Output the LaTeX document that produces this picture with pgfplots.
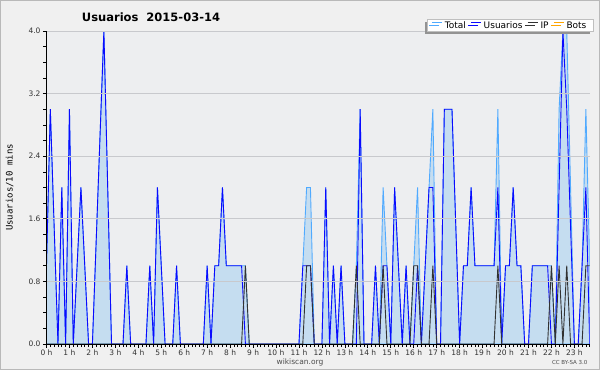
\documentclass[border=0pt]{standalone}
\usepackage{fontspec}
\setmainfont{DejaVu Sans}
\newfontfamily\monof{DejaVu Sans Mono}
\usepackage{pgfplots}
\usepackage{pgfplotstable}
\pgfplotsset{compat=1.18}
\usetikzlibrary{shadows}
\definecolor{outerbg}{RGB}{240,240,240}
\definecolor{plotbg}{RGB}{237,238,240}
\definecolor{gridc}{RGB}{200,201,205}
\definecolor{totline}{RGB}{80,170,255}
\definecolor{totfill}{RGB}{197,221,240}
\definecolor{usr}{RGB}{10,10,255}
\definecolor{ipc}{RGB}{50,50,50}
\definecolor{botc}{RGB}{255,165,0}

\pgfplotstableread{
i T U IP
0 1 1 0
1 3 3 0
2 1.5 1.5 0
3 0 0 0
4 2 2 0
5 0 0 0
6 3 3 0
7 0 0 0
8 1 1 0
9 2 2 0
10 1 1 0
11 0 0 0
12 0 0 0
13 1.33 1.33 0
14 2.67 2.67 0
15 4 4 0
16 2 2 0
17 0 0 0
18 0 0 0
19 0 0 0
20 0 0 0
21 1 1 0
22 0 0 0
23 0 0 0
24 0 0 0
25 0 0 0
26 0 0 0
27 1 1 0
28 0 0 0
29 2 2 0
30 1 1 0
31 0 0 0
32 0 0 0
33 0 0 0
34 1 1 0
35 0 0 0
36 0 0 0
37 0 0 0
38 0 0 0
39 0 0 0
40 0 0 0
41 0 0 0
42 1 1 0
43 0 0 0
44 1 1 0
45 1 1 0
46 2 2 0
47 1 1 0
48 1 1 0
49 1 1 0
50 1 1 0
51 1 1 0
52 1 0 1
53 0 0 0
54 0 0 0
55 0 0 0
56 0 0 0
57 0 0 0
58 0 0 0
59 0 0 0
60 0 0 0
61 0 0 0
62 0 0 0
63 0 0 0
64 0 0 0
65 0 0 0
66 0 0 0
67 1 1 0
68 2 1 1
69 2 1 1
70 0 0 0
71 0 0 0
72 0 0 0
73 2 2 0
74 0 0 0
75 1 1 0
76 0 0 0
77 1 1 0
78 0 0 0
79 0 0 0
80 0 0 0
81 1 0 1
82 3 3 0
83 0 0 0
84 0 0 0
85 0 0 0
86 1 1 0
87 0 0 0
88 2 1 1
89 1 1 0
90 0 0 0
91 2 2 0
92 1 1 0
93 0 0 0
94 1 1 0
95 0 0 0
96 1 0 1
97 2 1 1
98 0 0 0
99 1 1 0
100 2 2 0
101 3 2 1
102 0 0 0
103 0 0 0
104 3 3 0
105 3 3 0
106 3 3 0
107 1.5 1.5 0
108 0 0 0
109 1 1 0
110 1 1 0
111 2 2 0
112 1 1 0
113 1 1 0
114 1 1 0
115 1 1 0
116 1 1 0
117 1 1 0
118 3 2 1
119 0 0 0
120 1 1 0
121 1 1 0
122 2 2 0
123 1 1 0
124 1 1 0
125 0 0 0
126 0 0 0
127 1 1 0
128 1 1 0
129 1 1 0
130 1 1 0
131 1 1 0
132 1 0 1
133 0 0 0
134 3 2 1
135 4 4 0
136 4 3 1
137 2 1.5 0
138 0 0 0
139 0 0 0
140 1 1 0
141 3 2 1
142 1 0 1
}\data

\begin{document}
\begin{tikzpicture}
\fill[outerbg] (0pt,0pt) rectangle (600pt,370pt);
\draw[gray!55, line width=0.8pt] (0.4pt,0.4pt) rectangle (599.6pt,369.6pt);
\node[font=\bfseries\fontsize{11.5}{13}\selectfont, anchor=center] at (151pt,353pt) {Usuarios\ \ 2015-03-14};
\node[font=\fontsize{7.5}{9}\selectfont, text=black!70, anchor=center] at (300pt,8pt) {wikiscan.org};
\node[font=\fontsize{5.5}{7}\selectfont, text=black!70, anchor=east] at (591pt,7.5pt) {CC BY-SA 3.0};
\begin{axis}[
  at={(46.5pt,26pt)}, anchor=south west, scale only axis,
  width=543.2pt, height=313pt,
  xmin=0, xmax=142, ymin=0, ymax=4,
  axis background/.style={fill=plotbg},
  axis x line*=bottom, axis y line*=left,
  axis line style={black, line width=0.9pt},
  axis on top,
  tick align=outside,
  major tick length=3.5pt, minor tick length=3pt,
  tick style={black, line width=0.7pt},
  xtick={0,6,...,138},
  xticklabels={0 h,1 h,2 h,3 h,4 h,5 h,6 h,7 h,8 h,9 h,10 h,11 h,12 h,13 h,14 h,15 h,16 h,17 h,18 h,19 h,20 h,21 h,22 h,23 h},
  minor xtick={0,1,...,142},
  ytick={0,0.8,1.6,2.4,3.2,4.0},
  yticklabels={0.0,0.8,1.6,2.4,3.2,4.0},
  minor y tick num=3,
  ymajorgrids,
  major grid style={gridc, line width=0.8pt},
  tick label style={font=\fontsize{7.5}{9}\selectfont, text=black!80},
  xticklabel style={yshift=1.5pt},
  yticklabel style={xshift=1pt},
  ylabel={\monof Usuarios/10 mins},
  every axis y label/.style={at={(axis description cs:0,0.5)}, xshift=-37pt, rotate=90, anchor=center, font=\fontsize{9}{10}\selectfont},
  legend columns=4,
  legend cell align=left,
  legend image code/.code={\draw[#1, fill=none] (0pt,3pt) -- (10pt,3pt);},
  legend style={at={(rel axis cs:1,1)}, anchor=south east, xshift=3.5pt, yshift=-0.7pt,
    draw=gray!50, fill=white, line width=0.6pt,
    font=\fontsize{9}{10}\selectfont,
    inner xsep=4pt, inner ysep=1.2pt,
    nodes={inner xsep=2.5pt, inner ysep=0.5pt},
    drop shadow={shadow xshift=-2.5pt, shadow yshift=-2.5pt, fill=gray!85, opacity=1},
    /tikz/every even column/.append style={column sep=2pt}},
]
\addplot[draw=totline, fill=totfill, line width=0.9pt] table[x=i,y=T]{\data} \closedcycle;
\addlegendentry{Total}
\addplot[usr, line width=0.9pt] table[x=i,y=U]{\data};
\addlegendentry{Usuarios}
\addplot[ipc, line width=0.9pt] table[x=i,y=IP]{\data};
\addlegendentry{IP}
\addlegendimage{botc, line width=0.9pt}
\addlegendentry{Bots}
\end{axis}
\end{tikzpicture}
\end{document}
